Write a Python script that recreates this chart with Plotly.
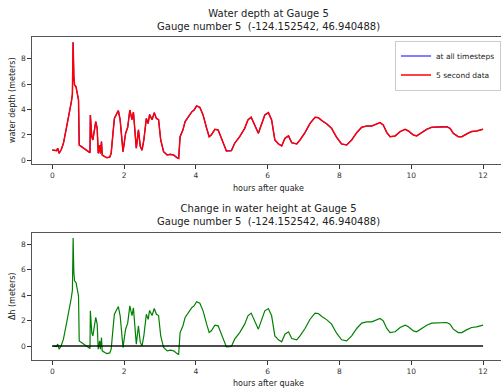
import plotly.graph_objects as go

# ---- data ----
hours = [0.00, 0.08, 0.12, 0.15, 0.19, 0.25, 0.31, 0.40, 0.44, 0.49,
         0.53, 0.56, 0.58, 0.60, 0.62, 0.66, 0.70, 0.73, 0.75, 0.81,
         0.91, 1.00, 1.05, 1.06, 1.10, 1.13, 1.17, 1.21, 1.25, 1.28,
         1.32, 1.34, 1.37, 1.39, 1.46, 1.52, 1.60, 1.64, 1.69, 1.73,
         1.80, 1.84, 1.89, 1.94, 1.97, 2.04, 2.10, 2.16, 2.22, 2.26,
         2.29, 2.34, 2.40, 2.45, 2.50, 2.55, 2.62, 2.67, 2.71, 2.78,
         2.84, 2.90, 2.96, 3.02, 3.10, 3.20, 3.29, 3.38, 3.48, 3.52,
         3.56, 3.64, 3.70, 3.80, 3.89, 3.95, 4.02, 4.11, 4.20, 4.30,
         4.37, 4.43, 4.53, 4.62, 4.71, 4.85, 4.99, 5.08, 5.22, 5.36,
         5.45, 5.51, 5.54, 5.74, 5.82, 5.92, 6.02, 6.11, 6.20, 6.30,
         6.39, 6.48, 6.58, 6.67, 6.81, 6.90, 7.04, 7.18, 7.32, 7.41,
         7.51, 7.65, 7.78, 7.92, 8.06, 8.20, 8.34, 8.48, 8.62, 8.76,
         8.90, 9.04, 9.13, 9.22, 9.32, 9.41, 9.55, 9.69, 9.83, 9.92,
         10.06, 10.15, 10.29, 10.43, 10.57, 10.71, 10.85, 10.99, 11.08, 11.17,
         11.31, 11.41, 11.54, 11.68, 11.82, 11.91, 12.00]

depth = [0.81, 0.78, 0.76, 0.95, 0.55, 0.85, 1.34, 2.65, 3.18, 3.96,
         4.60, 5.20, 9.30, 6.60, 5.93, 5.80, 5.00, 4.75, 1.20, 1.08,
         0.87, 0.68, 0.60, 3.57, 1.86, 1.60, 2.26, 3.05, 2.52, 0.55,
         1.20, 0.55, 1.47, 0.42, 0.29, 0.20, 0.26, 0.55, 2.13, 3.30,
         3.70, 3.91, 3.18, 1.34, 0.68, 2.10, 2.60, 3.96, 3.20, 3.80,
         2.90, 0.95, 2.40, 1.10, 0.80, 1.60, 3.30, 2.90, 3.60, 3.20,
         3.75, 3.30, 3.20, 1.60, 0.68, 0.42, 0.47, 0.42, 0.20, 0.15,
         1.86, 2.40, 3.05, 3.44, 3.83, 3.96, 4.28, 4.17, 3.57, 2.52,
         1.86, 2.00, 2.44, 2.39, 1.73, 0.73, 0.76, 1.34, 1.86, 2.52,
         3.18, 3.30, 3.39, 2.13, 2.78, 3.57, 3.75, 3.18, 1.60, 1.29,
         1.13, 1.73, 1.92, 1.39, 1.29, 1.60, 2.18, 2.91, 3.39, 3.36,
         3.12, 2.86, 2.52, 1.81, 1.29, 1.21, 1.60, 2.18, 2.60, 2.70,
         2.70, 2.86, 2.97, 2.78, 2.18, 1.86, 1.92, 2.26, 2.44, 2.31,
         1.99, 1.92, 2.18, 2.44, 2.60, 2.60, 2.65, 2.65, 2.52, 2.13,
         1.86, 1.86, 2.07, 2.26, 2.31, 2.39, 2.45]

delta_h = [0.01, -0.02, -0.04, 0.15, -0.25, 0.05, 0.54, 1.85, 2.38, 3.16,
           3.80, 4.40, 8.50, 5.80, 5.13, 5.00, 4.20, 3.95, 0.40, 0.28,
           0.07, -0.12, -0.20, 2.77, 1.06, 0.80, 1.46, 2.25, 1.72, -0.25,
           0.40, -0.25, 0.67, -0.38, -0.51, -0.60, -0.54, -0.25, 1.33, 2.50,
           2.90, 3.11, 2.38, 0.54, -0.12, 1.30, 1.80, 3.16, 2.40, 3.00,
           2.10, 0.15, 1.60, 0.30, 0.00, 0.80, 2.50, 2.10, 2.80, 2.40,
           2.95, 2.50, 2.40, 0.80, -0.12, -0.38, -0.33, -0.38, -0.60, -0.65,
           1.06, 1.60, 2.25, 2.64, 3.03, 3.16, 3.48, 3.37, 2.77, 1.72,
           1.06, 1.20, 1.64, 1.59, 0.93, -0.07, -0.04, 0.54, 1.06, 1.72,
           2.38, 2.50, 2.59, 1.33, 1.98, 2.77, 2.95, 2.38, 0.80, 0.49,
           0.33, 0.93, 1.12, 0.59, 0.49, 0.80, 1.38, 2.11, 2.59, 2.56,
           2.32, 2.06, 1.72, 1.01, 0.49, 0.41, 0.80, 1.38, 1.80, 1.90,
           1.90, 2.06, 2.17, 1.98, 1.38, 1.06, 1.12, 1.46, 1.64, 1.51,
           1.19, 1.12, 1.38, 1.64, 1.80, 1.80, 1.85, 1.85, 1.72, 1.33,
           1.06, 1.06, 1.27, 1.46, 1.51, 1.59, 1.65]

zero_hours = [0, 12]
zero_values = [0, 0]

x_ticks = [0, 2, 4, 6, 8, 10, 12]
y_ticks = [0, 2, 4, 6, 8]

title_top = "Water depth at Gauge 5<br>Gauge number 5  (-124.152542, 46.940488)"
title_bottom = "Change in water height at Gauge 5<br>Gauge number 5  (-124.152542, 46.940488)"

assert len(hours) == len(depth) == len(delta_h)

FONT = "DejaVu Sans"
W, H = 501, 391

fig = go.Figure()
fig.add_trace(go.Scatter(x=hours, y=depth, mode="lines", name="at all timesteps",
                         line=dict(color="#0000ff", width=1.1), xaxis="x", yaxis="y"))
fig.add_trace(go.Scatter(x=hours, y=depth, mode="lines", name="5 second data",
                         line=dict(color="#ff0000", width=1.5), xaxis="x", yaxis="y"))
fig.add_trace(go.Scatter(x=hours, y=delta_h, mode="lines", showlegend=False,
                         line=dict(color="#008000", width=1.2), xaxis="x2", yaxis="y2"))
fig.add_trace(go.Scatter(x=zero_hours, y=zero_values, mode="lines", showlegend=False,
                         line=dict(color="rgba(0,0,0,0.7)", width=2), xaxis="x2", yaxis="y2"))

left = 31.7 / W
xr = [-0.574, 12.5]
axis_common = dict(showgrid=False, zeroline=False, showline=True, linecolor="#555",
                   linewidth=1, ticks="outside", ticklen=3.5, tickwidth=0.8,
                   tickcolor="#333", tickfont=dict(family=FONT, size=7.5, color="#333"))

fig.update_layout(
    width=W, height=H, template="none",
    margin=dict(l=0, r=0, t=0, b=0, autoexpand=False),
    paper_bgcolor="white", plot_bgcolor="white",
    font=dict(family=FONT, color="#222"),
    xaxis=dict(domain=[left, 1], range=xr, tickvals=x_ticks, mirror=True, anchor="y", **axis_common),
    yaxis=dict(domain=[1 - 164 / H, 1 - 36.7 / H], range=[-0.29, 9.73], tickvals=y_ticks,
               anchor="x", **axis_common),
    xaxis2=dict(domain=[left, 1], range=xr, tickvals=x_ticks, mirror=True, anchor="y2", **axis_common),
    yaxis2=dict(domain=[1 - 360 / H, 1 - 232.7 / H], range=[-1.1, 8.92], tickvals=y_ticks,
                anchor="x2", **axis_common),
    legend=dict(x=1.0, y=1 - 40.5 / H, xanchor="right", yanchor="top",
                bgcolor="rgba(255,255,255,0.8)", bordercolor="#ccc", borderwidth=1,
                font=dict(family=FONT, size=7.5, color="#222"), itemwidth=30, tracegroupgap=0),
    showlegend=True,
)

cx = 268 / W
annots = [
    dict(text=title_top, x=cx, y=1 - 19.5 / H, size=10),
    dict(text=title_bottom, x=cx, y=1 - 215 / H, size=10),
    dict(text="hours after quake", x=cx, y=1 - 188.3 / H, size=8),
    dict(text="hours after quake", x=cx, y=1 - 383 / H, size=8),
]
for a in annots:
    fig.add_annotation(text=a["text"], x=a["x"], y=a["y"], xref="paper", yref="paper",
                       xanchor="center", yanchor="middle", showarrow=False,
                       font=dict(family=FONT, size=a["size"], color="#222"))
for txt, yc in [("water depth (meters)", 100.4), ("Δh (meters)", 296.4)]:
    fig.add_annotation(text=txt, x=12.7 / W, y=1 - yc / H, xref="paper", yref="paper",
                       xanchor="center", yanchor="middle", textangle=-90, showarrow=False,
                       font=dict(family=FONT, size=8, color="#222"))

fig.write_html("out.html", config={"displayModeBar": False},
               post_script="document.body.style.margin='0';document.body.style.overflow='hidden';")
